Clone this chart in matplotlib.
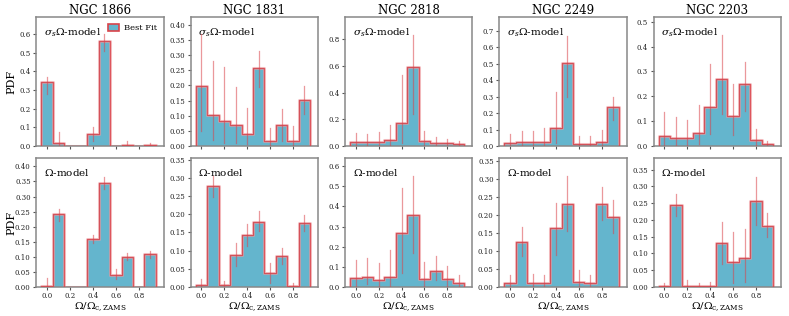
import numpy as np
import matplotlib
matplotlib.use("Agg")
import matplotlib.pyplot as plt
from matplotlib.ticker import MaxNLocator, FormatStrFormatter
from matplotlib.patches import Patch

plt.rcParams['font.family'] = ['DejaVu Serif']
plt.rcParams['mathtext.fontset'] = 'dejavuserif'

clusters = ["NGC 1866", "NGC 1831", "NGC 2818", "NGC 2249", "NGC 2203"]
bins = [0.0, 0.1, 0.2, 0.3, 0.4, 0.5, 0.6, 0.7, 0.8, 0.9]

# sigma Omega-model: values, lower, upper
top_vals = [
    [0.34, 0.015, 0.0, 0.0, 0.062, 0.56, 0.0, 0.008, 0.0, 0.008],
    [0.197, 0.103, 0.082, 0.068, 0.04, 0.258, 0.015, 0.07, 0.016, 0.153],
    [0.03, 0.028, 0.032, 0.045, 0.17, 0.59, 0.035, 0.025, 0.02, 0.013],
    [0.018, 0.025, 0.022, 0.025, 0.11, 0.505, 0.012, 0.012, 0.025, 0.235],
    [0.04, 0.033, 0.033, 0.053, 0.157, 0.27, 0.122, 0.25, 0.025, 0.008],
]
top_lo = [
    [0.28, 0.0, 0.0, 0.0, 0.025, 0.51, 0.0, 0.0, 0.0, 0.0],
    [0.05, 0.02, 0.01, 0.01, 0.005, 0.195, 0.0, 0.015, 0.0, 0.105],
    [0.0, 0.0, 0.0, 0.0, 0.02, 0.24, 0.0, 0.0, 0.0, 0.0],
    [0.0, 0.0, 0.0, 0.0, 0.02, 0.30, 0.0, 0.0, 0.0, 0.16],
    [0.0, 0.0, 0.0, 0.01, 0.05, 0.13, 0.045, 0.14, 0.0, 0.0],
]
top_hi = [
    [0.37, 0.075, 0.0, 0.0, 0.10, 0.60, 0.0, 0.025, 0.0, 0.015],
    [0.37, 0.28, 0.26, 0.195, 0.125, 0.315, 0.058, 0.122, 0.065, 0.197],
    [0.095, 0.09, 0.105, 0.16, 0.53, 0.83, 0.115, 0.07, 0.05, 0.038],
    [0.075, 0.09, 0.093, 0.108, 0.33, 0.67, 0.06, 0.06, 0.095, 0.30],
    [0.135, 0.115, 0.105, 0.165, 0.33, 0.445, 0.25, 0.337, 0.07, 0.022],
]
# Omega-model
bot_vals = [
    [0.004, 0.243, 0.0, 0.0, 0.158, 0.345, 0.04, 0.10, 0.0, 0.108],
    [0.005, 0.277, 0.005, 0.088, 0.142, 0.18, 0.038, 0.085, 0.003, 0.176],
    [0.045, 0.048, 0.035, 0.05, 0.27, 0.36, 0.04, 0.08, 0.04, 0.02],
    [0.01, 0.126, 0.01, 0.01, 0.163, 0.232, 0.013, 0.01, 0.23, 0.196],
    [0.003, 0.245, 0.004, 0.003, 0.004, 0.132, 0.075, 0.087, 0.258, 0.183],
]
bot_lo = [
    [0.0, 0.22, 0.0, 0.0, 0.145, 0.325, 0.025, 0.088, 0.0, 0.097],
    [0.0, 0.248, 0.0, 0.057, 0.113, 0.153, 0.01, 0.062, 0.0, 0.155],
    [0.0, 0.015, 0.0, 0.0, 0.07, 0.17, 0.0, 0.035, 0.0, 0.0],
    [0.0, 0.085, 0.0, 0.0, 0.09, 0.157, 0.0, 0.0, 0.185, 0.15],
    [0.0, 0.212, 0.0, 0.0, 0.0, 0.068, 0.012, 0.015, 0.185, 0.148],
]
bot_hi = [
    [0.03, 0.26, 0.0, 0.0, 0.172, 0.365, 0.058, 0.113, 0.0, 0.12],
    [0.022, 0.305, 0.017, 0.12, 0.172, 0.21, 0.067, 0.108, 0.01, 0.198],
    [0.135, 0.145, 0.12, 0.185, 0.49, 0.55, 0.125, 0.155, 0.105, 0.057],
    [0.032, 0.167, 0.036, 0.033, 0.235, 0.308, 0.047, 0.033, 0.277, 0.242],
    [0.012, 0.278, 0.02, 0.013, 0.016, 0.193, 0.163, 0.172, 0.328, 0.222],
]
top_ylim = [0.69, 0.426, 0.966, 0.785, 0.519]
bot_ylim = [0.428, 0.355, 0.641, 0.359, 0.385]

fill = '#64B5CD'
red = '#d9434a'

fig, axes = plt.subplots(2, 5, figsize=(7.89, 3.16), dpi=100, sharex=True)
fig.subplots_adjust(left=0.046, right=0.990, top=0.946, bottom=0.092,
                    wspace=0.21, hspace=0.093)

def draw(ax, vals, lo, hi, ymax, label):
    x = np.array(bins)
    ax.bar(x, vals, width=0.1, color=fill, edgecolor='none', zorder=1)
    edges = np.concatenate([x - 0.05, [x[-1] + 0.05]])
    ys = np.concatenate([[0], vals, [0]])
    xs = np.concatenate([[edges[0]], edges])
    ax.step(xs, ys, where='post', color='#f0a0a5', lw=2.2, alpha=0.6, zorder=2)
    ax.step(xs, ys, where='post', color=red, lw=0.9, alpha=0.85, zorder=3)
    for xi, l, h in zip(x, lo, hi):
        if h > l:
            ax.plot([xi, xi], [l, h], color=red, lw=0.9, alpha=0.55, zorder=4)
    ax.set_ylim(0, ymax)
    ax.set_xlim(-0.095, 1.02)
    loc = MaxNLocator(nbins=9, steps=[1, 2, 5, 10])
    ax.yaxis.set_major_locator(loc)
    t = loc.tick_values(0, ymax)
    step = t[1] - t[0]
    ax.yaxis.set_major_formatter(FormatStrFormatter('%.2f' if step < 0.099 else '%.1f'))
    ax.xaxis.set_major_formatter(FormatStrFormatter('%.1f'))
    ax.text(0.06, 0.93, label, transform=ax.transAxes, ha='left', va='top',
            fontsize=7.5)
    for s in ax.spines.values():
        s.set_color('#888888')
        s.set_linewidth(1.1)
    ax.tick_params(axis='both', labelsize=5, length=2.5, width=0.8,
                   color='#555555', pad=1.5, labelcolor='#222222')

for i in range(5):
    draw(axes[0, i], top_vals[i], top_lo[i], top_hi[i], top_ylim[i],
         r'$\sigma_s\Omega$-model')
    draw(axes[1, i], bot_vals[i], bot_lo[i], bot_hi[i], bot_ylim[i],
         r'$\Omega$-model')
    axes[0, i].set_title(clusters[i], fontsize=8.5, pad=2)
    axes[1, i].set_xlabel(r'$\Omega/\Omega_{\rm c,ZAMS}$', fontsize=7.5, labelpad=0)
    axes[1, i].set_xticks([0.0, 0.2, 0.4, 0.6, 0.8])

for r in range(2):
    axes[r, 0].set_ylabel('PDF', fontsize=8)
    axes[r, 0].yaxis.set_label_coords(-0.155, 0.5)

h = Patch(facecolor=fill, edgecolor=red, linewidth=1.2, label='Best Fit')
axes[0, 0].legend(handles=[h], loc='upper right', fontsize=6, frameon=False,
                  handlelength=1.3, handleheight=0.9, handletextpad=0.6,
                  borderaxespad=0.4)

fig.savefig('out.png', dpi=100)
